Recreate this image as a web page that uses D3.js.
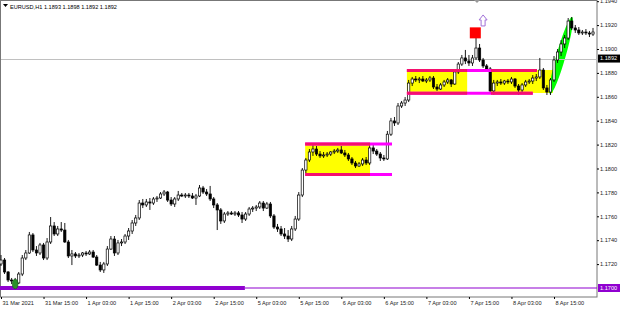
<!DOCTYPE html>
<html>
<head>
<meta charset="utf-8">
<script src="https://d3js.org/d3.v7.min.js"></script>
<style>
body{margin:0;background:#fff;}
svg{display:block;font-family:"Liberation Sans",Arial,sans-serif;}
</style>
</head>
<body>
<div id="canvas"></div>
<script>
// EURUSD H1, one bar per hour from 31 Mar 2021 03:00
var opens = [
1.17201,1.17234,1.17134,1.17067,1.17059,1.17042,1.17117,1.17251,1.17293,1.17444,
1.17318,1.17293,1.17360,1.17251,1.17385,1.17519,1.17452,1.17494,1.17485,1.17385,
1.17268,1.17285,1.17268,1.17276,1.17293,1.17285,1.17301,1.17259,1.17192,1.17151,
1.17201,1.17326,1.17410,1.17293,1.17377,1.17385,1.17435,1.17477,1.17544,1.17586,
1.17711,1.17695,1.17720,1.17711,1.17745,1.17753,1.17787,1.17803,1.17736,1.17703,
1.17745,1.17778,1.17770,1.17778,1.17770,1.17753,1.17770,1.17837,1.17803,1.17787,
1.17745,1.17695,1.17653,1.17561,1.17619,1.17628,1.17619,1.17628,1.17611,1.17577,
1.17619,1.17661,1.17669,1.17678,1.17711,1.17669,1.17703,1.17603,1.17510,1.17494,
1.17452,1.17435,1.17410,1.17494,1.17577,1.17778,1.17987,1.18071,1.18138,1.18163,
1.18121,1.18105,1.18113,1.18121,1.18138,1.18146,1.18155,1.18130,1.18113,1.18080,
1.18046,1.18021,1.18038,1.18071,1.18046,1.18172,1.18146,1.18121,1.18088,1.18080,
1.18287,1.18398,1.18381,1.18523,1.18548,1.18573,1.18715,1.18749,1.18741,1.18749,
1.18732,1.18741,1.18757,1.18682,1.18665,1.18699,1.18724,1.18741,1.18707,1.18808,
1.18874,1.18925,1.18900,1.18883,1.18925,1.19008,1.18908,1.18858,1.18833,1.18649,
1.18715,1.18724,1.18715,1.18732,1.18724,1.18749,1.18690,1.18657,1.18699,1.18724,
1.18732,1.18757,1.18766,1.18824,1.18674,1.18640,1.18741,1.18908,1.18975,1.19042,
1.19092,1.19234,1.19176,1.19159,1.19134,1.19142,1.19134,1.19125];
var highs = [
1.17276,1.17251,1.17142,1.17084,1.17084,1.17134,1.17276,1.17318,1.17469,1.17460,
1.17351,1.17377,1.17377,1.17418,1.17594,1.17552,1.17519,1.17552,1.17544,1.17402,
1.17318,1.17301,1.17293,1.17301,1.17310,1.17318,1.17318,1.17276,1.17218,1.17218,
1.17351,1.17435,1.17435,1.17402,1.17410,1.17452,1.17502,1.17569,1.17611,1.17736,
1.17745,1.17745,1.17753,1.17761,1.17770,1.17803,1.17820,1.17812,1.17761,1.17761,
1.17812,1.17795,1.17795,1.17795,1.17795,1.17787,1.17862,1.17854,1.17828,1.17854,
1.17761,1.17711,1.17669,1.17636,1.17644,1.17644,1.17644,1.17644,1.17636,1.17636,
1.17678,1.17686,1.17695,1.17728,1.17728,1.17720,1.17720,1.17619,1.17536,1.17519,
1.17502,1.17485,1.17519,1.17603,1.17803,1.18004,1.18088,1.18163,1.18197,1.18188,
1.18146,1.18138,1.18138,1.18146,1.18163,1.18172,1.18188,1.18155,1.18130,1.18096,
1.18063,1.18054,1.18088,1.18096,1.18197,1.18197,1.18163,1.18138,1.18113,1.18314,
1.18423,1.18431,1.18548,1.18565,1.18598,1.18741,1.18766,1.18774,1.18766,1.18774,
1.18757,1.18774,1.18774,1.18707,1.18715,1.18741,1.18757,1.18749,1.18824,1.18891,
1.18950,1.18992,1.18950,1.18950,1.19092,1.19042,1.18925,1.18874,1.18849,1.18741,
1.18741,1.18749,1.18741,1.18749,1.18766,1.18757,1.18707,1.18715,1.18741,1.18749,
1.18782,1.18791,1.18925,1.18841,1.18699,1.18757,1.18941,1.19000,1.19075,1.19117,
1.19259,1.19268,1.19201,1.19184,1.19159,1.19167,1.19151,1.19176];
var lows = [
1.17184,1.17117,1.17050,1.17033,1.17017,1.17033,1.17100,1.17234,1.17285,1.17301,
1.17268,1.17276,1.17234,1.17234,1.17368,1.17435,1.17435,1.17469,1.17377,1.17251,
1.17192,1.17251,1.17251,1.17259,1.17268,1.17276,1.17251,1.17184,1.17134,1.17126,
1.17184,1.17318,1.17268,1.17276,1.17351,1.17368,1.17402,1.17452,1.17519,1.17569,
1.17669,1.17678,1.17653,1.17695,1.17720,1.17745,1.17770,1.17720,1.17686,1.17678,
1.17728,1.17761,1.17753,1.17753,1.17745,1.17695,1.17761,1.17787,1.17770,1.17728,
1.17669,1.17485,1.17536,1.17544,1.17603,1.17611,1.17603,1.17594,1.17544,1.17561,
1.17603,1.17636,1.17644,1.17661,1.17644,1.17661,1.17586,1.17494,1.17469,1.17435,
1.17410,1.17385,1.17393,1.17477,1.17561,1.17761,1.17962,1.18054,1.18105,1.18105,
1.18088,1.18088,1.18096,1.18105,1.18121,1.18130,1.18121,1.18096,1.18063,1.18029,
1.18004,1.18013,1.18021,1.18029,1.18029,1.18121,1.18105,1.18063,1.18063,1.18071,
1.18272,1.18356,1.18364,1.18506,1.18523,1.18556,1.18690,1.18724,1.18715,1.18724,
1.18715,1.18724,1.18665,1.18649,1.18657,1.18682,1.18707,1.18682,1.18699,1.18791,
1.18858,1.18874,1.18858,1.18858,1.18908,1.18891,1.18841,1.18816,1.18632,1.18615,
1.18690,1.18699,1.18699,1.18707,1.18707,1.18674,1.18615,1.18640,1.18682,1.18707,
1.18707,1.18732,1.18749,1.18657,1.18615,1.18615,1.18724,1.18883,1.18941,1.19008,
1.19075,1.19159,1.19134,1.19117,1.19117,1.19117,1.19100,1.19109];
var closes = [
1.17234,1.17134,1.17067,1.17059,1.17042,1.17117,1.17251,1.17293,1.17444,1.17318,
1.17293,1.17360,1.17251,1.17385,1.17519,1.17452,1.17494,1.17485,1.17385,1.17268,
1.17285,1.17268,1.17276,1.17293,1.17285,1.17301,1.17259,1.17192,1.17151,1.17201,
1.17326,1.17410,1.17293,1.17377,1.17385,1.17435,1.17477,1.17544,1.17586,1.17711,
1.17695,1.17720,1.17711,1.17745,1.17753,1.17787,1.17803,1.17736,1.17703,1.17745,
1.17778,1.17770,1.17778,1.17770,1.17753,1.17770,1.17837,1.17803,1.17787,1.17745,
1.17695,1.17653,1.17561,1.17619,1.17628,1.17619,1.17628,1.17611,1.17577,1.17619,
1.17661,1.17669,1.17678,1.17711,1.17669,1.17703,1.17603,1.17510,1.17494,1.17452,
1.17435,1.17410,1.17494,1.17577,1.17778,1.17987,1.18071,1.18138,1.18163,1.18121,
1.18105,1.18113,1.18121,1.18138,1.18146,1.18155,1.18130,1.18113,1.18080,1.18046,
1.18021,1.18038,1.18071,1.18046,1.18172,1.18146,1.18121,1.18088,1.18080,1.18287,
1.18398,1.18381,1.18523,1.18548,1.18573,1.18715,1.18749,1.18741,1.18749,1.18732,
1.18741,1.18757,1.18682,1.18665,1.18699,1.18724,1.18741,1.18707,1.18808,1.18874,
1.18925,1.18900,1.18883,1.18925,1.19008,1.18908,1.18858,1.18833,1.18649,1.18715,
1.18724,1.18715,1.18732,1.18724,1.18749,1.18690,1.18657,1.18699,1.18724,1.18732,
1.18757,1.18766,1.18824,1.18674,1.18640,1.18741,1.18908,1.18975,1.19042,1.19092,
1.19234,1.19176,1.19159,1.19134,1.19142,1.19134,1.19125,1.19142];

var priceTicks = [1.1720,1.1740,1.1760,1.1780,1.1800,1.1820,1.1840,1.1860,1.1880,1.1900,1.1920,1.1940];
var timeLabels = ['31 Mar 2021','31 Mar 15:00','1 Apr 03:00','1 Apr 15:00','2 Apr 03:00','2 Apr 15:00',
                  '5 Apr 03:00','5 Apr 15:00','6 Apr 03:00','6 Apr 15:00','7 Apr 03:00','7 Apr 15:00',
                  '8 Apr 03:00','8 Apr 15:00'];
var timeLabelBars = [0,12,24,36,48,60,72,84,96,108,120,132,144,156];

var title = 'EURUSD,H1  1.1893 1.1898 1.1892 1.1892';
var bid = 1.1892;
var support = 1.1700, supportEnd = 68.8;

// chart objects, in bar index / price
var zones = [
  {from:85.8, to:104.1, top:1.18213, bottom:1.17946},
  {from:114.5, to:131.5, top:1.18824, bottom:1.18632},
  {from:138.2, to:155.7, top:1.18824, bottom:1.18632}
];
var levels = [
  {from:85.8, to:110.3, price:1.18205},
  {from:85.8, to:110.3, price:1.17950},
  {from:114.5, to:151.2, price:1.18820},
  {from:114.5, to:150.0, price:1.18630}
];
var channel = {from:154.9, fromPrice:1.18623, to:161.1, toPrice:1.19268};
var lowMark = {bar:4, price:1.17033};
var boxMark = {bar:133.8, price:1.19135};
var arrowMark = {bar:136.0, price:1.19285};

var W = 620, H = 310;
var plotR = 597, plotB = 297;

var svg = d3.select('#canvas').append('svg')
    .attr('width', W)
    .attr('height', H);

var x = d3.scaleLinear().domain([0, 167]).range([1, 593]);
var y = d3.scaleLinear().domain([1.17, 1.1941]).range([288, 0]);

// frame
svg.append('rect')
    .attr('x', 0.5).attr('y', 0.5)
    .attr('width', plotR - 0.5).attr('height', plotB - 0.5)
    .attr('fill', 'none').attr('stroke', '#777').attr('stroke-width', 1);

var plot = svg.append('g');

// background objects
plot.selectAll('.zone').data(zones).enter().append('rect')
    .attr('class', 'zone')
    .attr('x', function(d){ return x(d.from); })
    .attr('y', function(d){ return y(d.top); })
    .attr('width', function(d){ return x(d.to) - x(d.from); })
    .attr('height', function(d){ return y(d.bottom) - y(d.top); })
    .attr('fill', '#ffff00');

var cx0 = x(channel.from), cy0 = y(channel.fromPrice),
    cx1 = x(channel.to), cy1 = y(channel.toPrice);
var len = Math.sqrt((cx1-cx0)*(cx1-cx0) + (cy1-cy0)*(cy1-cy0));
var ang = Math.atan2(cy1-cy0, cx1-cx0) * 180 / Math.PI;
plot.append('ellipse')
    .attr('cx', 0).attr('cy', 0)
    .attr('rx', len/2).attr('ry', 4.6)
    .attr('transform', 'translate(' + ((cx0+cx1)/2) + ',' + ((cy0+cy1)/2) + ') rotate(' + ang + ')')
    .attr('fill', '#00ff00');

// bid line
plot.append('line')
    .attr('x1', 1).attr('x2', plotR)
    .attr('y1', Math.round(y(bid)) + 0.5).attr('y2', Math.round(y(bid)) + 0.5)
    .attr('stroke', '#c0c0c0').attr('stroke-width', 1);

// support line
plot.append('line')
    .attr('x1', x(supportEnd)).attr('x2', plotR)
    .attr('y1', y(support)).attr('y2', y(support))
    .attr('stroke', '#9000d0').attr('stroke-width', 1.2);
plot.append('line')
    .attr('x1', 0).attr('x2', x(supportEnd))
    .attr('y1', y(support)).attr('y2', y(support))
    .attr('stroke', '#9000d0').attr('stroke-width', 4);

// candles
var idx = d3.range(opens.length);
var bw = 2.3;
var candle = plot.selectAll('.candle').data(idx).enter().append('g').attr('class', 'candle');
candle.append('line')
    .attr('x1', function(i){ return x(i); })
    .attr('x2', function(i){ return x(i); })
    .attr('y1', function(i){ return y(highs[i]); })
    .attr('y2', function(i){ return y(lows[i]); })
    .attr('stroke', '#000').attr('stroke-width', 0.9);
candle.append('rect')
    .attr('x', function(i){ return x(i) - bw/2; })
    .attr('y', function(i){ return y(Math.max(opens[i], closes[i])); })
    .attr('width', bw)
    .attr('height', function(i){ return Math.max(0.8, Math.abs(y(opens[i]) - y(closes[i]))); })
    .attr('fill', function(i){ return closes[i] >= opens[i] ? '#fff' : '#000'; })
    .attr('stroke', '#000').attr('stroke-width', 0.7);

// level lines, reddish where they cross the yellow zones
levels.forEach(function(l){
  plot.append('line')
      .attr('x1', x(l.from)).attr('x2', x(l.to))
      .attr('y1', y(l.price)).attr('y2', y(l.price))
      .attr('stroke', '#ff00ff').attr('stroke-width', 3);
  zones.forEach(function(z){
    var a = Math.max(l.from, z.from), b = Math.min(l.to, z.to);
    if (b > a && l.price <= z.top + 0.0001 && l.price >= z.bottom - 0.0001) {
      plot.append('line')
          .attr('x1', x(a)).attr('x2', x(b))
          .attr('y1', y(l.price)).attr('y2', y(l.price))
          .attr('stroke', '#f5106e').attr('stroke-width', 3);
    }
  });
});

// markers
plot.append('ellipse')
    .attr('cx', x(lowMark.bar)).attr('cy', y(lowMark.price))
    .attr('rx', 2.8).attr('ry', 4.8)
    .attr('fill', '#2a8f2a').attr('stroke', '#145c14').attr('stroke-width', 0.6);

plot.append('rect')
    .attr('x', x(boxMark.bar) - 5.5).attr('y', y(boxMark.price) - 5.5)
    .attr('width', 11).attr('height', 11)
    .attr('fill', '#ff0000');

var ax = x(arrowMark.bar), ay = y(arrowMark.price);
plot.append('path')
    .attr('d', 'M' + ax + ',' + ay + ' l4,5 l-2,0 l0,6 l-4,0 l0,-6 l-2,0 z')
    .attr('fill', '#fff').attr('stroke', '#a070d8').attr('stroke-width', 1);

// shift marker at top
svg.append('path')
    .attr('d', 'M474,0 l6,0 l-3,3 z')
    .attr('fill', '#999');

// price axis
var yAxis = d3.axisRight(y).tickValues(priceTicks).tickSize(2).tickSizeOuter(0)
    .tickFormat(d3.format('.4f'));
var gy = svg.append('g')
    .attr('transform', 'translate(' + plotR + ',0)')
    .call(yAxis);
gy.select('.domain').remove();
gy.selectAll('text').attr('x', 3).attr('font-size', 5.6).attr('font-family', '"Liberation Sans",Arial,sans-serif').attr('fill', '#222');

// price tags
function tag(p, bg){
  var g = svg.append('g').attr('transform', 'translate(' + plotR + ',' + y(p) + ')');
  g.append('rect').attr('x', 1).attr('y', -4).attr('width', 22).attr('height', 8).attr('fill', bg);
  g.append('text').attr('x', 3).attr('dy', '0.33em').attr('font-size', 5.6)
      .attr('fill', '#fff').text(d3.format('.4f')(p));
}
tag(bid, '#000');
tag(support, '#9000d0');

// time axis
var xAxis = d3.axisBottom(x).tickValues(timeLabelBars).tickSize(2).tickSizeOuter(0)
    .tickFormat(function(d, k){ return timeLabels[k]; });
var gx = svg.append('g')
    .attr('transform', 'translate(0,' + plotB + ')')
    .call(xAxis);
gx.select('.domain').remove();
gx.selectAll('text').attr('text-anchor', 'start').attr('x', 1).attr('y', 4)
    .attr('font-size', 5.6).attr('font-family', '"Liberation Sans",Arial,sans-serif').attr('fill', '#222');

// title
svg.append('path').attr('d', 'M3,4 l5,0 l-2.5,3 z').attr('fill', '#000');
svg.append('text').attr('x', 10).attr('y', 8.5).attr('font-size', 5.6).attr('fill', '#000').text(title);
</script>
</body>
</html>
